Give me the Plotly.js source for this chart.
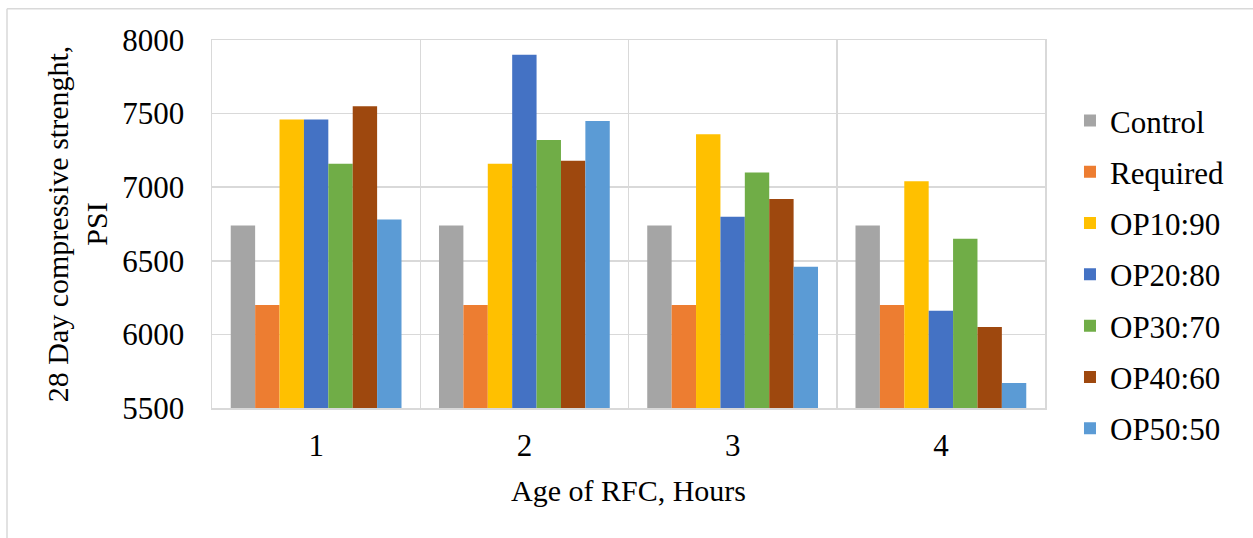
<!DOCTYPE html>
<html>
<head>
<meta charset="utf-8">
<script src="https://cdn.plot.ly/plotly-3.0.1.min.js"></script>
<style>
  html, body { margin: 0; padding: 0; background: #ffffff; }
  #chart { width: 1253px; height: 538px; }
</style>
</head>
<body>
<div id="chart"></div>
<script>
// Categories (Age of RFC, Hours)
const categories = ['1', '2', '3', '4'];

// Series names
const seriesNames = ['Control', 'Required', 'OP10:90', 'OP20:80', 'OP30:70', 'OP40:60', 'OP50:50'];

// Series values (28 Day compressive strength, PSI)
const control  = [6740, 6740, 6740, 6740];
const required = [6200, 6200, 6200, 6200];
const op10_90  = [7460, 7160, 7360, 7040];
const op20_80  = [7460, 7900, 6800, 6160];
const op30_70  = [7160, 7320, 7100, 6650];
const op40_60  = [7550, 7180, 6920, 6050];
const op50_50  = [6780, 7450, 6460, 5670];

const seriesValues = [control, required, op10_90, op20_80, op30_70, op40_60, op50_50];
const seriesColors = ['#A5A5A5', '#ED7D31', '#FFC000', '#4472C4', '#70AD47', '#9E480E', '#5B9BD5'];

const FONT = 'Liberation Serif';

const traces = seriesNames.map((name, i) => ({
  type: 'bar',
  name: name,
  x: categories,
  y: seriesValues[i],
  marker: { color: seriesColors[i], line: { width: 0 } },
  legendgroup: 'g' + i,
  hoverinfo: 'x+y+name'
}));

const layout = {
  width: 1253,
  height: 538,
  paper_bgcolor: '#ffffff',
  plot_bgcolor: '#ffffff',
  margin: { l: 212, r: 208, t: 40, b: 130, autoexpand: false },
  barmode: 'group',
  bargap: 0.18,
  bargroupgap: 0,
  font: { family: FONT, size: 30, color: '#000000' },
  xaxis: {
    type: 'category',
    tickson: 'boundaries',
    ticks: '',
    showgrid: true,
    gridcolor: '#d9d9d9',
    gridwidth: 1.5,
    showline: true,
    linecolor: '#d9d9d9',
    linewidth: 1.5,
    mirror: true,
    tickfont: { family: FONT, size: 31, color: '#000000' },
    ticklabelstandoff: 9,
    title: { text: 'Age of RFC, Hours', font: { family: FONT, size: 30, color: '#000000' }, standoff: 18 },
    automargin: false,
    fixedrange: true
  },
  yaxis: {
    range: [5500, 8000],
    dtick: 500,
    tick0: 5500,
    ticks: '',
    showgrid: true,
    gridcolor: '#d9d9d9',
    gridwidth: 1.5,
    zeroline: false,
    showline: true,
    linecolor: '#d9d9d9',
    linewidth: 1.5,
    mirror: true,
    tickfont: { family: FONT, size: 31, color: '#000000' },
    ticklabelstandoff: 20,
    title: { text: '28 Day compressive strenght,<br>PSI', font: { family: FONT, size: 30, color: '#000000' }, standoff: 6 },
    automargin: false,
    fixedrange: true
  },
  showlegend: true,
  legend: {
    x: 1.03,
    xanchor: 'left',
    y: 0.362,
    yanchor: 'middle',
    font: { family: FONT, size: 31, color: '#000000' },
    tracegroupgap: 8,
    bgcolor: 'rgba(0,0,0,0)',
    borderwidth: 0,
    traceorder: 'grouped'
  },
  shapes: [
    { type: 'line', xref: 'paper', yref: 'paper', x0: -0.2461, x1: 1.26, y0: 1.085, y1: 1.085,
      line: { color: '#d9d9d9', width: 1.5 } },
    { type: 'line', xref: 'paper', yref: 'paper', x0: -0.2461, x1: -0.2461, y0: 1.085, y1: -0.36,
      line: { color: '#d9d9d9', width: 1.5 } }
  ]
};

Plotly.newPlot('chart', traces, layout, { displayModeBar: false, staticPlot: true });
</script>
</body>
</html>
